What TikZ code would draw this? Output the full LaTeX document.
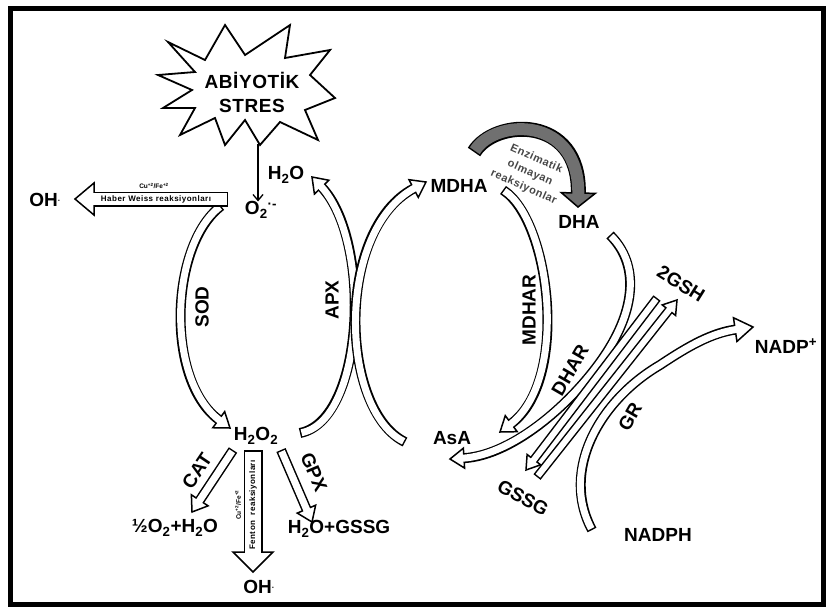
\documentclass[tikz,border=0pt]{standalone}
\usepackage{fontspec}
\setmainfont{Liberation Sans}
\usetikzlibrary{calc,arrows.meta}
\definecolor{enzgray}{RGB}{112,112,112}
\definecolor{enztext}{RGB}{70,70,70}
% #1 inner width, #2 head half width, #3 head length, #4 path without end, #5 last control point, #6 end point, #7 fill
\newcommand{\barrow}[7]{%
  \draw[line width=#1pt+3pt, shorten >=#3pt] #4 (#6);
  \path (#6) coordinate (tip) ($(#6)!#3pt!(#5)$) coordinate (hb);
  \draw[line width=1.5pt, fill=#7, line join=miter, miter limit=6] (tip) -- ($(hb)!#2pt!90:(tip)$) -- ($(hb)!#2pt!-90:(tip)$) -- cycle;
  \draw[#7, line width=#1pt, shorten >=#3pt-2pt, shorten <=1.5pt] #4 (#6);
}
\begin{document}
\begin{tikzpicture}[x=1pt,y=-1pt,
  lab/.style={font=\fontsize{19}{22}\selectfont\bfseries, inner sep=0pt},
  small/.style={font=\fontsize{8}{9}\selectfont\bfseries\addfontfeature{LetterSpace=6}, inner sep=0pt},
  tinyt/.style={font=\fontsize{6.5}{7}\selectfont\bfseries, inner sep=0pt}]
\useasboundingbox (0,0) rectangle (826,608);
\draw[line width=5pt] (10,8) rectangle (823,604);

% starburst
\draw[line width=1.8pt, fill=white, line join=miter] (168,42) -- (205,60) -- (225,25) -- (245,55) -- (290,25) -- (285,58) -- (330,50) -- (310,75) -- (335,98) -- (305,110) -- (318,140) -- (280,122) -- (260,145) -- (245,120) -- (225,145) -- (215,118) -- (180,135) -- (195,108) -- (163,108) -- (192,90) -- (158,75) -- (195,72) -- cycle;
\node[font=\fontsize{19}{24}\selectfont\bfseries\addfontfeature{LetterSpace=3}, align=center, inner sep=0pt] (star) at (252,92) {ABİYOTİK\\STRES};
\coordinate (starb) at (258,144);

% labels
\node[lab] (o2) at (261,210) {O\textsubscript{2}\textsuperscript{·-}};
\draw[line width=1.3pt, -{Straight Barb[length=6pt,width=10pt]}] (starb) -- (starb |- o2.north);
\node[lab] (h2o) at (286,175) {H\textsubscript{2}O};
\node[lab] (h2o2) at (256,436) {H\textsubscript{2}O\textsubscript{2}};
\node[lab] (mdha) at (459,186) {MDHA};
\node[lab] (dha) at (579,222) {DHA};
\node[lab] (asa) at (452,438) {AsA};
\node[lab] (nadpp) at (786,346) {NADP\textsuperscript{+}};
\node[lab] (nadph) at (658,535) {NADPH};
\node[lab] (oh1) at (45,200) {OH\raisebox{3pt}{\fontsize{8}{8}\selectfont·}};
\node[lab] (oh2) at (259,587) {OH\raisebox{3pt}{\fontsize{8}{8}\selectfont·}};
\node[lab] (prod1) at (175,528) {½O\textsubscript{2}+H\textsubscript{2}O};
\node[lab] (prod2) at (339,529) {H\textsubscript{2}O+GSSG};

% SOD
\barrow{7}{10}{14}{(221,206) .. controls (170,245) and (165,380) ..}{165,380}{230,428}{white}
\node[lab, rotate=90] (sod) at (202,307) {SOD};
% Haber Weiss
\barrow{12}{16}{19}{(228,199) --}{228,199}{75,199}{white}
\node[small] (hw) at (156,199.5) {Haber Weiss reaksiyonları};
\node[tinyt] (hwcu) at (154,186) {Cu\textsuperscript{+2}/Fe\textsuperscript{+2}};

% APX and AsA->MDHA
\barrow{7}{10}{14}{(300,433) .. controls (365,420) and (372,240) ..}{372,240}{312,177}{white}
\barrow{7}{10}{14}{(405,442) .. controls (340,410) and (335,230) ..}{335,230}{426,182}{white}
\node[lab, rotate=90] (apx) at (332,300) {APX};

% non-enzymatic
\barrow{12}{17}{14}{(474,152) .. controls (495,118) and (580,115) ..}{580,115}{578,207}{enzgray}
\node[font=\fontsize{11}{15.5}\selectfont\bfseries\addfontfeature{LetterSpace=5}, text=enztext, rotate=-24, align=center, inner sep=0pt] (enz) at (530,173) {Enzimatik\\olmayan\\reaksiyonlar};

% MDHAR
\barrow{7}{10}{14}{(503,190) .. controls (550,220) and (570,380) ..}{570,380}{500,432}{white}
\node[lab, rotate=90] (mdhar) at (529,310) {MDHAR};

% DHAR
\barrow{7}{10}{14}{(610,235) .. controls (640,265) and (635,310) .. (605,355) .. controls (575,400) and (515,455) ..}{515,455}{450,459}{white}
\node[lab, rotate=60] (dhar) at (570,370) {DHAR};

% GR
\barrow{7}{12}{18}{(592,530) .. controls (560,470) and (600,400) .. (660,365) .. controls (690,345) and (712,333) ..}{712,333}{753,327}{white}
\node[lab, rotate=60] (gr) at (630,417) {GR};

% GSH / GSSG
\barrow{6}{8.5}{13}{(657,298) --}{657,298}{526,470}{white}
\barrow{6}{8.5}{13}{(537,477) --}{537,477}{677,300}{white}
\node[lab, rotate=-32] (gsh) at (681,284) {2GSH};
\node[lab, rotate=-29] (gssg) at (523,498) {GSSG};

% H2O2 branches
\barrow{7}{10}{14}{(233,450) --}{233,450}{192,512}{white}
\node[lab, rotate=56] (cat) at (197,471) {CAT};
\barrow{7}{10}{14}{(281,450) --}{281,450}{312,522}{white}
\node[lab, rotate=-67] (gpx) at (314,472) {GPX};
\barrow{16}{20}{20}{(253,450) --}{253,450}{253,572}{white}
\node[small, rotate=90] (fenton) at (253,505) {Fenton\ \ reaksiyonları};
\node[tinyt, rotate=90] (fcu) at (238,505) {Cu\textsuperscript{+2}/Fe\textsuperscript{+2}};
\end{tikzpicture}
\end{document}
